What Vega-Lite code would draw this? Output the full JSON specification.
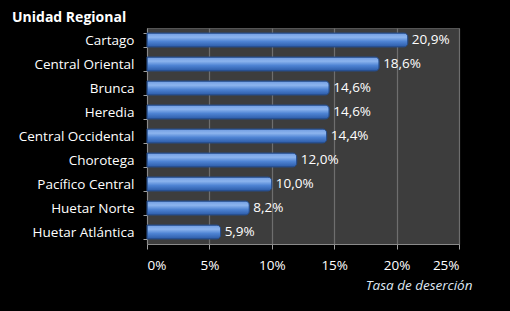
{
  "$schema": "https://vega.github.io/schema/vega-lite/v6.json",
  "autosize": {"type": "none"},
  "width": 312,
  "height": 216,
  "padding": {"left": 147, "top": 28, "right": 51, "bottom": 67},
  "background": "#000000",
  "title": {
    "text": "Unidad Regional",
    "anchor": "start",
    "frame": "group",
    "dx": -135,
    "dy": 9,
    "offset": 5,
    "color": "#ffffff",
    "font": "Open Sans",
    "fontSize": 14,
    "fontWeight": "bold"
  },
  "data": {
    "values": [
      {"region": "Cartago", "tasa": 0.209},
      {"region": "Central Oriental", "tasa": 0.186},
      {"region": "Brunca", "tasa": 0.146},
      {"region": "Heredia", "tasa": 0.146},
      {"region": "Central Occidental", "tasa": 0.144},
      {"region": "Chorotega", "tasa": 0.120},
      {"region": "Pacífico Central", "tasa": 0.100},
      {"region": "Huetar Norte", "tasa": 0.082},
      {"region": "Huetar Atlántica", "tasa": 0.059}
    ]
  },
  "encoding": {
    "y": {
      "field": "region",
      "type": "nominal",
      "sort": null,
      "scale": {"paddingInner": 0.42, "paddingOuter": 0.21},
      "axis": {
        "title": null,
        "labelColor": "#ffffff",
        "labelFont": "Open Sans",
        "labelFontSize": 13.5,
        "labelPadding": 9,
        "tickBand": "extent",
        "tickColor": "#a0a0a0",
        "tickSize": 4,
        "domainColor": "#8a8a8a"
      }
    },
    "x": {
      "field": "tasa",
      "type": "quantitative",
      "scale": {"domain": [0, 0.25], "nice": false},
      "axis": {
        "title": "Tasa de deserción",
        "titleAnchor": "end",
        "titleX": 325,
        "titleColor": "#dfe6f2",
        "titleFont": "Open Sans",
        "titleFontSize": 13.5,
        "titleFontStyle": "italic",
        "titleFontWeight": "normal",
        "titlePadding": 7,
        "values": [0, 0.05, 0.1, 0.15, 0.2, 0.25],
        "format": ".0%",
        "labelColor": "#ffffff",
        "labelFont": "Open Sans",
        "labelFontSize": 13.5,
        "labelPadding": 9,
        "tickColor": "#a0a0a0",
        "tickSize": 5,
        "domainColor": "#8a8a8a",
        "gridColor": "#6e6e6e",
        "gridWidth": 1.2
      }
    }
  },
  "layer": [
    {
      "mark": {
        "type": "bar",
        "cornerRadiusEnd": 4,
        "stroke": "#274e8c",
        "strokeWidth": 1,
        "color": {
          "gradient": "linear",
          "x1": 0, "y1": 0, "x2": 0, "y2": 1,
          "stops": [
            {"offset": 0, "color": "#6f9be0"},
            {"offset": 0.3, "color": "#8cb4ee"},
            {"offset": 0.6, "color": "#4f84d4"},
            {"offset": 1, "color": "#2b5aa6"}
          ]
        }
      }
    },
    {
      "mark": {
        "type": "text",
        "align": "left",
        "dx": 4,
        "color": "#ffffff",
        "font": "Open Sans",
        "fontSize": 13.5
      },
      "encoding": {
        "text": {"field": "tasa", "type": "quantitative", "format": ".1%"}
      }
    }
  ],
  "config": {
    "view": {"fill": "#3d3d3d", "stroke": "#555555"},
    "locale": {
      "number": {"decimal": ",", "thousands": ".", "grouping": [3], "currency": ["", " €"]}
    }
  }
}
